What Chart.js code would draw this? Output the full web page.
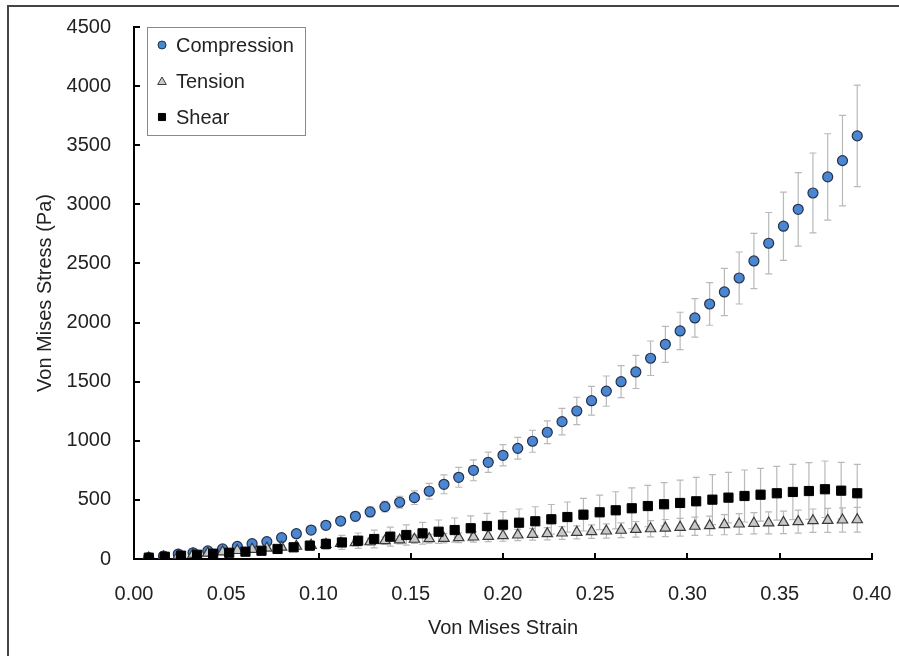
<!DOCTYPE html>
<html>
<head>
<meta charset="utf-8">
<title>Von Mises Stress vs Strain</title>
<script src="https://cdn.jsdelivr.net/npm/chart.js@4.4.1/dist/chart.umd.min.js"></script>
<style>
  html, body { margin: 0; padding: 0; background: #fff; }
  #wrap { position: relative; width: 899px; height: 656px; overflow: hidden; }
  #frame { position: absolute; left: 7px; top: 5px; width: 1000px; height: 1000px;
           border-left: 2px solid #454545; border-top: 2px solid #454545; }
  #stressChart { position: absolute; left: 0; top: 0; }
</style>
</head>
<body>
<div id="wrap">
  <div id="frame"></div>
  <canvas id="stressChart" width="899" height="656"></canvas>
</div>
<script>
// Compression and tension share the same strain steps
const strainCT = [
    0.008, 0.016, 0.024, 0.032, 0.040, 0.048, 0.056, 0.064, 0.072, 0.080,
    0.088, 0.096, 0.104, 0.112, 0.120, 0.128, 0.136, 0.144, 0.152, 0.160,
    0.168, 0.176, 0.184, 0.192, 0.200, 0.208, 0.216, 0.224, 0.232, 0.240,
    0.248, 0.256, 0.264, 0.272, 0.280, 0.288, 0.296, 0.304, 0.312, 0.320,
    0.328, 0.336, 0.344, 0.352, 0.360, 0.368, 0.376, 0.384, 0.392
];
const compressionStress = [
    11, 25, 42, 53, 68, 85, 107, 130, 147, 180,
    214, 245, 285, 321, 361, 398, 443, 480, 519, 573,
    632, 691, 750, 818, 877, 936, 996, 1072, 1162, 1252,
    1339, 1420, 1500, 1582, 1698, 1816, 1929, 2039, 2157, 2259,
    2377, 2521, 2671, 2815, 2958, 3096, 3232, 3370, 3579
];
const compressionErr = [
    3, 5, 7, 8, 10, 12, 14, 16, 18, 20,
    22, 25, 28, 32, 36, 40, 45, 50, 58, 66,
    80, 84, 88, 86, 90, 92, 93, 96, 112, 116,
    122, 128, 135, 140, 146, 152, 158, 163, 180, 200,
    220, 234, 260, 289, 311, 338, 365, 383, 430
];
const tensionStress = [
    8, 18, 30, 40, 50, 60, 72, 82, 92, 100,
    108, 116, 124, 131, 138, 146, 155, 161, 167, 172,
    175, 180, 186, 192, 197, 203, 209, 214, 220, 226,
    231, 237, 243, 251, 256, 262, 268, 277, 282, 290,
    296, 302, 305, 310, 316, 324, 327, 330, 332
];
const tensionErr = [
    2, 3, 5, 6, 8, 10, 12, 14, 15, 17,
    19, 21, 23, 25, 27, 29, 31, 33, 35, 37,
    39, 41, 43, 45, 47, 48, 50, 52, 54, 55,
    57, 60, 63, 66, 69, 72, 75, 78, 81, 85,
    88, 90, 93, 95, 97, 99, 101, 103, 105
];

const strainShear = [
    0.0080, 0.0167, 0.0255, 0.0342, 0.0429, 0.0516, 0.0604, 0.0691, 0.0778, 0.0865,
    0.0953, 0.1040, 0.1127, 0.1215, 0.1302, 0.1389, 0.1476, 0.1564, 0.1651, 0.1738,
    0.1825, 0.1913, 0.2000, 0.2087, 0.2175, 0.2262, 0.2349, 0.2436, 0.2524, 0.2611,
    0.2698, 0.2785, 0.2873, 0.2960, 0.3047, 0.3135, 0.3222, 0.3309, 0.3396, 0.3484,
    0.3571, 0.3658, 0.3745, 0.3833, 0.3920
];
const shearStress = [
    11, 19, 28, 36, 45, 53, 62, 70, 85, 99,
    113, 127, 140, 155, 169, 189, 203, 217, 231, 245,
    260, 279, 290, 307, 319, 336, 355, 375, 395, 412,
    429, 448, 463, 474, 488, 502, 519, 533, 544, 556,
    567, 575, 590, 578, 556
];
const shearErr = [
    3, 5, 7, 9, 11, 14, 17, 20, 25, 30,
    36, 45, 59, 65, 75, 80, 85, 92, 99, 102,
    104, 107, 110, 116, 123, 125, 127, 138, 146, 157,
    172, 175, 183, 194, 203, 211, 214, 220, 223, 228,
    234, 240, 239, 240, 245
];

const xTickStep = 0.05;
const yTickStep = 500;

const FONT = "'Liberation Sans', Arial, sans-serif";
const TEXT = '#222';

function points(xs, ys, errs) {
    return xs.map((x, i) => ({ x: x, y: ys[i], err: errs[i] }));
}

// vertical error bars, behind the markers
const errorBars = {
    id: 'errorBars',
    beforeDatasetsDraw(chart) {
        const ctx = chart.ctx;
        const yScale = chart.scales.y;
        ctx.save();
        ctx.strokeStyle = '#b9b9b9';
        ctx.lineWidth = 1.2;
        chart.data.datasets.forEach((ds, di) => {
            const meta = chart.getDatasetMeta(di);
            meta.data.forEach((pt, i) => {
                const d = ds.data[i];
                const top = yScale.getPixelForValue(d.y + d.err);
                const bot = yScale.getPixelForValue(d.y - d.err);
                ctx.beginPath();
                ctx.moveTo(pt.x, top);
                ctx.lineTo(pt.x, bot);
                ctx.moveTo(pt.x - 3.5, top);
                ctx.lineTo(pt.x + 3.5, top);
                ctx.moveTo(pt.x - 3.5, bot);
                ctx.lineTo(pt.x + 3.5, bot);
                ctx.stroke();
            });
        });
        ctx.restore();
    }
};

// tick marks pointing into the plot area
const innerTicks = {
    id: 'innerTicks',
    afterDraw(chart) {
        const ctx = chart.ctx;
        const xs = chart.scales.x, ys = chart.scales.y;
        const axisY = xs.top, axisX = ys.right;
        ctx.save();
        ctx.strokeStyle = '#000';
        ctx.lineWidth = 2;
        ctx.beginPath();
        xs.ticks.forEach(t => {
            const px = Math.round(xs.getPixelForValue(t.value));
            ctx.moveTo(px, axisY);
            ctx.lineTo(px, axisY - 6);
        });
        ys.ticks.forEach(t => {
            const py = Math.round(ys.getPixelForValue(t.value));
            ctx.moveTo(axisX, py);
            ctx.lineTo(axisX + 6, py);
        });
        ctx.stroke();
        ctx.restore();
    }
};

// boxed legend in the upper left of the plot
const boxLegend = {
    id: 'boxLegend',
    afterDraw(chart) {
        const ctx = chart.ctx;
        const left = 147.5, top = 27.5, w = 158, h = 108;
        ctx.save();
        ctx.fillStyle = '#fff';
        ctx.fillRect(left, top, w, h);
        ctx.strokeStyle = '#8a8a8a';
        ctx.lineWidth = 1;
        ctx.strokeRect(left, top, w, h);
        ctx.font = '20px ' + FONT;
        ctx.textBaseline = 'middle';
        chart.data.datasets.forEach((ds, i) => {
            const y = 45 + i * 36;
            ctx.fillStyle = ds.backgroundColor;
            ctx.strokeStyle = ds.borderColor;
            ctx.lineWidth = 1;
            const r = ds.pointStyle === 'circle' ? 4 : 5;
            Chart.helpers.drawPoint(ctx, {
                pointStyle: ds.pointStyle,
                radius: r,
                borderWidth: 1,
                rotation: 0
            }, 162, ds.pointStyle === 'triangle' ? y + 1 : y);
            ctx.fillStyle = TEXT;
            ctx.fillText(ds.label, 176, y + 1);
        });
        ctx.restore();
    }
};

new Chart(document.getElementById('stressChart'), {
    type: 'scatter',
    data: {
        datasets: [
            {
                label: 'Compression',
                data: points(strainCT, compressionStress, compressionErr),
                pointStyle: 'circle',
                pointRadius: 5,
                backgroundColor: '#4a86d2',
                borderColor: '#25334a',
                borderWidth: 1.2,
                order: 2
            },
            {
                label: 'Tension',
                data: points(strainCT, tensionStress, tensionErr),
                pointStyle: 'triangle',
                pointRadius: 6,
                backgroundColor: '#c9c9c9',
                borderColor: '#3a3a3a',
                borderWidth: 1.2,
                order: 1
            },
            {
                label: 'Shear',
                data: points(strainShear, shearStress, shearErr),
                pointStyle: 'rect',
                pointRadius: 6.5,
                backgroundColor: '#000',
                borderColor: '#000',
                borderWidth: 1,
                order: 0
            }
        ]
    },
    options: {
        responsive: false,
        animation: false,
        events: [],
        layout: { padding: { top: 27, right: 27, left: 0, bottom: 0 } },
        plugins: {
            legend: { display: false },
            tooltip: { enabled: false }
        },
        scales: {
            x: {
                type: 'linear',
                min: 0,
                max: 0.4,
                grid: { display: false, drawTicks: false },
                border: { display: true, color: '#000', width: 2 },
                ticks: {
                    stepSize: xTickStep,
                    padding: 23,
                    maxRotation: 0,
                    autoSkip: false,
                    color: TEXT,
                    font: { family: FONT, size: 20 },
                    callback: v => v.toFixed(2)
                },
                title: {
                    display: true,
                    text: 'Von Mises Strain',
                    color: TEXT,
                    font: { family: FONT, size: 20 },
                    padding: { top: 0, bottom: 16 }
                },
                afterFit: scale => {
                    scale.height = 97;
                    scale.paddingLeft = 0;
                    scale.paddingRight = 0;
                }
            },
            y: {
                type: 'linear',
                min: 0,
                max: 4500,
                grid: { display: false, drawTicks: false },
                border: { display: true, color: '#000', width: 2 },
                ticks: {
                    stepSize: yTickStep,
                    padding: 23,
                    color: TEXT,
                    font: { family: FONT, size: 20 },
                    callback: v => String(v)
                },
                title: {
                    display: true,
                    text: 'Von Mises Stress (Pa)',
                    color: TEXT,
                    font: { family: FONT, size: 20 },
                    padding: { top: 33, bottom: 0 }
                },
                afterFit: scale => {
                    scale.width = 134;
                    scale.paddingTop = 0;
                    scale.paddingBottom = 0;
                }
            }
        }
    },
    plugins: [errorBars, innerTicks, boxLegend]
});
</script>
</body>
</html>
